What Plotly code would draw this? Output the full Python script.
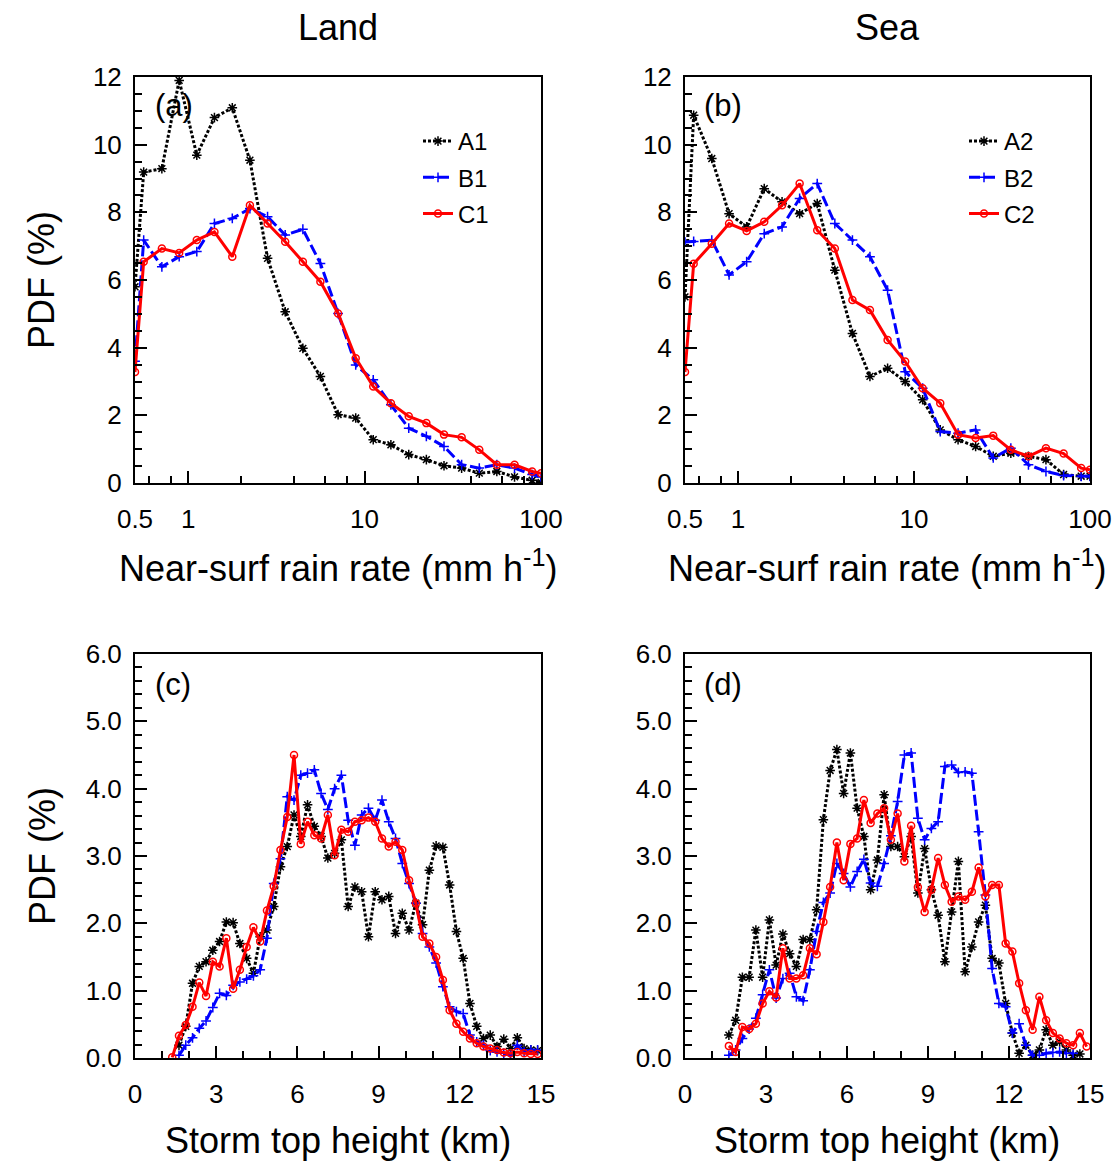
import plotly.graph_objects as go

W, H = 1118, 1165
FONT = "Liberation Sans, Arial, Helvetica, sans-serif"

# ---------------- data: rain-rate PDFs (log-spaced bins) ----------------
rain_rate = [0.5, 0.56, 0.71, 0.89, 1.12, 1.41, 1.78, 2.24, 2.82, 3.55, 4.47, 5.62,
             7.08, 8.91, 11.2, 14.1, 17.8, 22.4, 28.2, 35.5, 44.7, 56.2, 70.8, 89.1, 100]

land_A1 = [5.8, 9.19, 9.29, 11.9, 9.69, 10.8, 11.09, 9.54, 6.64, 5.06, 3.98, 3.15,
           2.02, 1.92, 1.28, 1.13, 0.84, 0.69, 0.51, 0.44, 0.29, 0.34, 0.18, 0.08, 0.02]
land_B1 = [3.6, 7.18, 6.39, 6.69, 6.84, 7.67, 7.82, 8.11, 7.87, 7.33, 7.5, 6.49,
           5.01, 3.49, 3.05, 2.31, 1.62, 1.38, 1.08, 0.54, 0.44, 0.54, 0.44, 0.25, 0.18]
land_C1 = [3.28, 6.54, 6.93, 6.8, 7.18, 7.42, 6.69, 8.21, 7.67, 7.13, 6.54, 5.95,
           5.01, 3.69, 2.85, 2.36, 1.97, 1.77, 1.43, 1.35, 0.98, 0.54, 0.54, 0.34, 0.29]

sea_A2 = [5.5, 10.87, 9.59, 7.96, 7.57, 8.7, 8.31, 7.96, 8.26, 6.29, 4.42, 3.15,
          3.39, 3.0, 2.46, 1.57, 1.28, 1.08, 0.79, 0.88, 0.79, 0.69, 0.25, 0.2, 0.2]
sea_B2 = [7.12, 7.14, 7.18, 6.15, 6.54, 7.37, 7.57, 8.41, 8.85, 7.67, 7.18, 6.69,
          5.7, 3.29, 2.8, 1.52, 1.47, 1.57, 0.74, 1.03, 0.54, 0.34, 0.22, 0.2, 0.2]
sea_C2 = [3.28, 6.48, 7.07, 7.67, 7.45, 7.72, 8.21, 8.85, 7.47, 6.93, 5.41, 5.11,
          4.23, 3.59, 2.8, 2.36, 1.43, 1.33, 1.4, 0.98, 0.79, 1.03, 0.87, 0.44, 0.39]

# ---------------- data: storm-top-height PDFs (0.25 km bins) ----------------
storm_top = [1.375, 1.625, 1.875, 2.125, 2.375, 2.625, 2.875, 3.125, 3.375, 3.625,
             3.875, 4.125, 4.375, 4.625, 4.875, 5.125, 5.375, 5.625, 5.875, 6.125,
             6.375, 6.625, 6.875, 7.125, 7.375, 7.625, 7.875, 8.125, 8.375, 8.625,
             8.875, 9.125, 9.375, 9.625, 9.875, 10.125, 10.375, 10.625, 10.875, 11.125,
             11.375, 11.625, 11.875, 12.125, 12.375, 12.625, 12.875, 13.125, 13.375, 13.625,
             13.875, 14.125, 14.375, 14.625, 14.875]

land_sth_A1 = [None, 0.19, 0.47, 1.11, 1.36, 1.43, 1.60, 1.73, 2.02, 2.01,
               1.70, 1.48, 1.26, 1.80, 1.90, 2.25, 2.84, 3.14, 3.61, 3.29,
               3.76, 3.44, 3.29, 2.97, 3.04, 3.24, 2.25, 2.54, 2.47, 1.80,
               2.47, 2.35, 2.40, 1.85, 2.15, 1.90, 2.30, 1.98, 2.79, 3.15,
               3.13, 2.57, 1.88, 1.48, 0.81, 0.47, 0.29, 0.34, 0.17, 0.28,
               0.14, 0.30, 0.14, 0.12, 0.11]
land_sth_B1 = [None, 0.04, 0.19, 0.30, 0.44, 0.55, 0.75, 0.96, 0.93, 1.08,
               1.13, 1.17, 1.22, 1.31, 1.78, 2.59, 2.96, 3.88, 3.83, 4.20,
               4.23, 4.28, 3.93, 3.69, 4.00, 4.20, 3.53, 3.16, 3.61, 3.71,
               3.53, 3.83, 3.51, 3.26, 2.89, 2.59, 2.30, 1.85, 1.65, 1.41,
               1.06, 0.76, 0.69, 0.66, 0.34, 0.24, 0.19, 0.11, 0.09, 0.07,
               0.04, 0.19, 0.09, 0.12, 0.12]
land_sth_C1 = [0.01, 0.33, 0.49, 0.76, 1.12, 0.92, 1.43, 1.36, 1.78, 1.03,
               1.31, 1.65, 1.94, 1.73, 2.19, 2.55, 3.09, 3.58, 4.50, 3.18,
               3.51, 3.31, 3.26, 3.61, 3.01, 3.39, 3.36, 3.51, 3.53, 3.57,
               3.51, 3.26, 3.14, 3.21, 3.09, 2.64, 2.30, 1.80, 1.70, 1.50,
               1.16, 0.71, 0.51, 0.39, 0.29, 0.22, 0.17, 0.14, 0.12, 0.08,
               0.07, 0.09, 0.07, 0.06, 0.06]

sea_sth_A2 = [None, 0.34, 0.56, 1.20, 1.20, 1.90, 1.20, 2.05, 1.38, 1.84,
              1.55, 1.36, 1.76, 1.76, 2.20, 3.54, 4.27, 4.58, 3.93, 4.53,
              3.71, 3.29, 2.50, 2.94, 3.91, 3.14, 3.14, 2.99, 3.29, 2.45,
              3.11, 2.50, 2.12, 1.43, 2.17, 2.92, 1.28, 1.65, 2.02, 2.27,
              1.48, 1.41, 0.81, 0.37, 0.07, 0.19, 0.04, 0.12, 0.42, 0.19,
              0.24, 0.12, 0.04, 0.06, None]
sea_sth_B2 = [None, 0.04, 0.12, 0.29, 0.43, 0.59, 0.94, 1.31, 0.89, 1.18,
              1.26, 0.91, 0.85, 1.31, 1.88, 2.31, 2.45, 2.89, 2.74, 2.54,
              2.77, 2.95, 2.60, 2.55, 2.89, 3.30, 3.81, 4.50, 4.53, 3.56,
              3.24, 3.41, 3.51, 4.33, 4.35, 4.24, 4.25, 4.23, 3.36, 2.42,
              1.33, 0.81, 0.76, 0.37, 0.51, 0.19, 0.04, 0.04, 0.07, 0.08,
              0.09, 0.07, 0.07, None, None]
sea_sth_C2 = [None, 0.18, 0.09, 0.46, 0.43, 0.51, 0.81, 0.99, 0.90, 1.63,
              1.18, 1.18, 1.23, 1.63, 1.54, 2.02, 2.54, 3.20, 2.64, 3.18,
              3.26, 3.83, 3.49, 3.63, 3.71, 3.24, 3.63, 2.92, 3.45, 2.54,
              2.17, 2.50, 2.97, 2.57, 2.32, 2.40, 2.35, 2.47, 2.83, 2.40,
              2.57, 2.57, 1.70, 1.58, 1.11, 0.71, 0.42, 0.91, 0.56, 0.37,
              0.29, 0.22, 0.19, 0.37, 0.17]

rain_tickvals = [0.5, 1, 10, 100]
rain_ticktext = ["0.5", "1", "10", "100"]
rain_minor = [0.6, 0.8, 2, 4, 6, 8, 20, 40, 60, 80]
pdf_rain_ticks = [0, 2, 4, 6, 8, 10, 12]
pdf_sth_ticks = [0, 1, 2, 3, 4, 5, 6]
sth_ticks = [0, 3, 6, 9, 12, 15]

# ---------------- styles ----------------
STY = {
    "A": dict(mode="lines+markers",
              line=dict(color="#000000", width=3, dash="3px,2px"),
              marker=dict(symbol="asterisk-open", size=8, color="#000000",
                          line=dict(color="#000000", width=1.5))),
    "B": dict(mode="lines+markers",
              line=dict(color="#0000ff", width=3, dash="11px,4px"),
              marker=dict(symbol="cross-thin-open", size=7, color="#0000ff",
                          line=dict(color="#0000ff", width=1.5))),
    "C": dict(mode="lines+markers",
              line=dict(color="#ff0000", width=3),
              marker=dict(symbol="circle-open", size=7, color="#ff0000",
                          line=dict(color="#ff0000", width=1.5))),
}

fig = go.Figure()

panels = [
    ("x", "y", "legend", rain_rate, [("A1", "A", land_A1), ("B1", "B", land_B1), ("C1", "C", land_C1)], True),
    ("x2", "y2", "legend2", rain_rate, [("A2", "A", sea_A2), ("B2", "B", sea_B2), ("C2", "C", sea_C2)], True),
    ("x3", "y3", None, storm_top, [("A1", "A", land_sth_A1), ("B1", "B", land_sth_B1), ("C1", "C", land_sth_C1)], False),
    ("x4", "y4", None, storm_top, [("A2", "A", sea_sth_A2), ("B2", "B", sea_sth_B2), ("C2", "C", sea_sth_C2)], False),
]

for xa, ya, leg, xs, series, show in panels:
    for name, key, ys in series:
        kw = dict(STY[key])
        tr = go.Scatter(x=xs, y=ys, name=name, xaxis=xa, yaxis=ya,
                        showlegend=show, connectgaps=False,
                        legendgroup=(leg or "") + name, **kw)
        if leg:
            tr.legend = leg
        fig.add_trace(tr)

# ---------------- axes ----------------
def ax(**kw):
    base = dict(showline=True, linecolor="black", linewidth=2, mirror=True,
                ticks="inside", ticklen=12, tickwidth=2, tickcolor="black",
                showgrid=False, zeroline=False, automargin=False,
                tickfont=dict(family=FONT, size=26, color="black"))
    base.update(kw)
    return base

XL = [135 / W, 541 / W]
XR = [685 / W, 1090 / W]
YT = [1 - 483 / H, 1 - 77 / H]
YB = [1 - 1058 / H, 1 - 654 / H]

minor_small = dict(ticks="inside", ticklen=7, tickwidth=2, tickcolor="black")

for i, (dx, dy) in enumerate([(XL, YT), (XR, YT)], start=1):
    s = "" if i == 1 else str(i)
    fig.update_layout(**{
        "xaxis" + s: ax(type="log", range=[-0.30103, 2.0], domain=dx, anchor="y" + s,
                        tickmode="array", tickvals=rain_tickvals, ticktext=rain_ticktext,
                        ticklabelstandoff=12,
                        minor=dict(tickmode="array", tickvals=rain_minor, **minor_small)),
        "yaxis" + s: ax(range=[0, 12], domain=dy, anchor="x" + s,
                        tickmode="array", tickvals=pdf_rain_ticks, ticklabelstandoff=6,
                        minor=dict(dtick=0.5, **minor_small)),
    })

for i, (dx, dy) in enumerate([(XL, YB), (XR, YB)], start=3):
    s = str(i)
    fig.update_layout(**{
        "xaxis" + s: ax(range=[0, 15], domain=dx, anchor="y" + s,
                        tickmode="array", tickvals=sth_ticks, ticklabelstandoff=12,
                        minor=dict(dtick=1, **minor_small)),
        "yaxis" + s: ax(range=[0, 6], domain=dy, anchor="x" + s,
                        tickmode="array", tickvals=pdf_sth_ticks, tickformat=".1f",
                        ticklabelstandoff=6,
                        minor=dict(dtick=0.2, **minor_small)),
    })

# ---------------- legends ----------------
def legend_at(xpx, ypx):
    return dict(x=xpx / W, y=1 - ypx / H, xanchor="left", yanchor="top",
                bgcolor="rgba(0,0,0,0)", borderwidth=0,
                font=dict(family=FONT, size=24, color="black"),
                traceorder="grouped", tracegroupgap=2, itemwidth=30)

fig.update_layout(legend=legend_at(418, 119), legend2=legend_at(964, 119))

# ---------------- texts ----------------
def txt(t, xpx, ypx, size, xanchor="center", angle=0):
    return dict(text=t, x=xpx / W, y=1 - ypx / H, xref="paper", yref="paper",
                xanchor=xanchor, yanchor="middle", showarrow=False, textangle=angle,
                font=dict(family=FONT, size=size, color="black"))

annotations = [
    txt("Land", 338, 27, 36),
    txt("Sea", 887, 27, 36),
    txt("PDF (%)", 42, 280, 36, angle=-90),
    txt("PDF (%)", 42, 856, 36, angle=-90),
    txt("Near-surf rain rate (mm h<sup>-1</sup>)", 338, 566, 36),
    txt("Near-surf rain rate (mm h<sup>-1</sup>)", 887, 566, 36),
    txt("Storm top height (km)", 338, 1140, 36),
    txt("Storm top height (km)", 887, 1140, 36),
    txt("(a)", 153, 105, 31, xanchor="left"),
    txt("(b)", 702, 105, 31, xanchor="left"),
    txt("(c)", 153, 684, 31, xanchor="left"),
    txt("(d)", 702, 684, 31, xanchor="left"),
]

fig.update_layout(
    template="none",
    width=W, height=H, autosize=False,
    margin=dict(l=0, r=0, t=0, b=0, pad=0, autoexpand=False),
    paper_bgcolor="white", plot_bgcolor="white",
    font=dict(family=FONT, color="black"),
    annotations=annotations,
)

fig.write_html(
    "out.html",
    config={"displayModeBar": False, "responsive": False},
    post_script="document.body.style.margin='0';document.body.style.padding='0';",
)
